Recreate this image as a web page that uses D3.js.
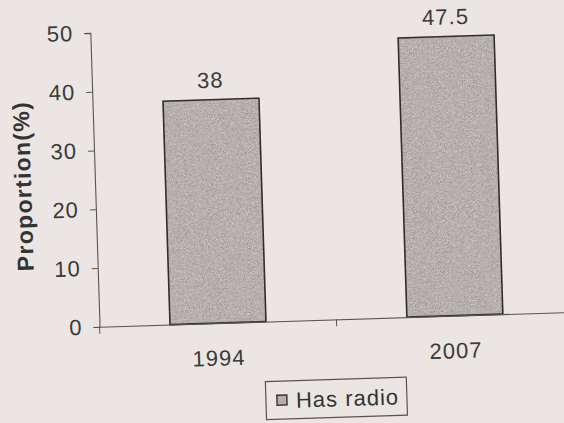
<!DOCTYPE html>
<html><head><meta charset="utf-8">
<script src="https://cdn.jsdelivr.net/npm/d3@7"></script>
<style>body{margin:0;background:#ebe6e3;}svg{display:block;}</style>
</head><body>
<script>
const categories = ["1994", "2007"];
const hasRadio = [38, 47.5];
const yTicks = [0, 10, 20, 30, 40, 50];
const seriesName = "Has radio";

const W = 564, H = 423;
const FONT = "Liberation Sans, Arial, sans-serif";
const svg = d3.select("body").append("svg").attr("width", W).attr("height", H);
svg.append("rect").attr("width", W).attr("height", H).attr("fill", "#ebe6e3");

const defs = svg.append("defs");
const f = defs.append("filter").attr("id", "grain").attr("x", 0).attr("y", 0).attr("width", 1).attr("height", 1)
  .attr("color-interpolation-filters", "sRGB");
f.append("feTurbulence").attr("type", "fractalNoise").attr("baseFrequency", 1.2).attr("numOctaves", 1).attr("seed", 7).attr("result", "n");
f.append("feColorMatrix").attr("in", "n").attr("type", "matrix")
  .attr("values", "0.5 0 0 0 0.46  0.5 0 0 0 0.44  0.5 0 0 0 0.43  0 0 0 0 1").attr("result", "dots");
f.append("feComposite").attr("in", "dots").attr("in2", "SourceGraphic").attr("operator", "in");

const g = svg.append("g").attr("transform", "rotate(-1.8,282,211)");

const mLeft = 96, mRight = 570, mTop = 27, mBottom = 321;
const x = d3.scaleBand().domain(categories).range([mLeft, mRight]).paddingInner(0).paddingOuter(0);
const y = d3.scaleLinear().domain([0, 50]).range([mBottom, mTop]);
const barW = x.bandwidth() * 0.405;

// bars: grainy fill, then outline
g.selectAll("rect.barfill").data(categories).join("rect")
  .attr("class", "barfill")
  .attr("x", d => x(d) + x.bandwidth() / 2 - barW / 2)
  .attr("y", (d, i) => y(hasRadio[i]))
  .attr("width", barW)
  .attr("height", (d, i) => y(0) - y(hasRadio[i]))
  .attr("fill", "#b4afac")
  .attr("filter", "url(#grain)");
g.selectAll("rect.barline").data(categories).join("rect")
  .attr("class", "barline")
  .attr("x", d => x(d) + x.bandwidth() / 2 - barW / 2)
  .attr("y", (d, i) => y(hasRadio[i]))
  .attr("width", barW)
  .attr("height", (d, i) => y(0) - y(hasRadio[i]))
  .attr("fill", "none")
  .attr("stroke", "#2e2e2e").attr("stroke-width", 1.6);

// y axis
const ya = g.append("g").attr("transform", `translate(${mLeft},0)`)
  .call(d3.axisLeft(y).tickValues(yTicks).tickSize(6).tickPadding(11));
ya.select(".domain").attr("stroke", "#555").attr("stroke-width", 1.1);
ya.selectAll(".tick line").attr("stroke", "#555");
ya.selectAll(".tick text").attr("font-family", FONT)
  .attr("font-size", 22).attr("letter-spacing", 1).attr("fill", "#3a3a3a");

// x axis
const xa = g.append("g").attr("transform", `translate(0,${mBottom})`)
  .call(d3.axisBottom(x).tickSize(0).tickPadding(27));
xa.select(".domain").attr("stroke", "#555").attr("stroke-width", 1.1);
xa.selectAll(".tick text").attr("font-family", FONT)
  .attr("font-size", 22).attr("letter-spacing", 1).attr("fill", "#3a3a3a");
// category boundary ticks
g.selectAll("line.ctick").data(categories).join("line")
  .attr("class", "ctick")
  .attr("x1", d => x(d)).attr("x2", d => x(d))
  .attr("y1", mBottom).attr("y2", mBottom + 7)
  .attr("stroke", "#555");

// data labels
g.selectAll("text.lbl").data(categories).join("text")
  .attr("class", "lbl")
  .attr("x", d => x(d) + x.bandwidth() / 2)
  .attr("y", (d, i) => y(hasRadio[i]) - 12)
  .attr("text-anchor", "middle")
  .attr("font-family", FONT)
  .attr("font-size", 22).attr("letter-spacing", 1).attr("fill", "#3a3a3a")
  .text((d, i) => hasRadio[i]);

// y title
g.append("text")
  .attr("transform", `translate(32,${(mTop + mBottom) / 2 + 4}) rotate(-90)`)
  .attr("text-anchor", "middle")
  .attr("font-family", FONT)
  .attr("font-size", 23).attr("font-weight", "bold").attr("letter-spacing", 1.3).attr("fill", "#333")
  .text("Proportion(%)");

// legend
const lg = g.append("g").attr("transform", "translate(260,381)");
lg.append("rect").attr("width", 141).attr("height", 38)
  .attr("fill", "none").attr("stroke", "#555").attr("stroke-width", 1.2);
lg.append("rect").attr("x", 11).attr("y", 14).attr("width", 10).attr("height", 10)
  .attr("fill", "#b4afac").attr("stroke", "#333").attr("stroke-width", 1.4);
lg.append("text").attr("x", 30).attr("y", 27)
  .attr("font-family", FONT)
  .attr("font-size", 22).attr("letter-spacing", 1).attr("fill", "#333")
  .text(seriesName);
</script>
</body></html>
